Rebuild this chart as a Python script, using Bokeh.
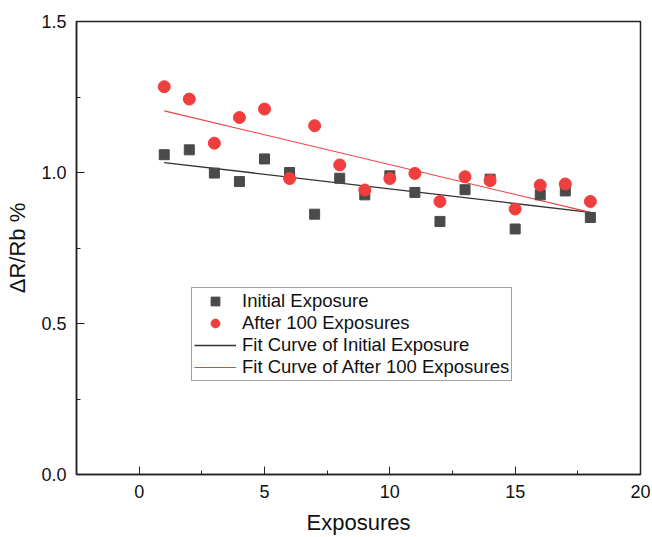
from bokeh.plotting import figure
from bokeh.models import Range1d, Legend, LegendItem, FixedTicker, CustomJSTickFormatter
from bokeh.embed import file_html
from bokeh.resources import INLINE

exposures = list(range(1, 19))
initial = [1.059, 1.075, 0.998, 0.970, 1.045, 1.000, 0.862, 0.981, 0.926,
           0.989, 0.934, 0.838, 0.943, 0.978, 0.813, 0.926, 0.939, 0.851]
after100 = [1.284, 1.243, 1.097, 1.182, 1.210, 0.980, 1.155, 1.025, 0.942,
            0.980, 0.997, 0.904, 0.986, 0.973, 0.879, 0.958, 0.962, 0.904]
fit_x = [1, 18]
fit_initial = [1.033, 0.868]
fit_after = [1.204, 0.868]

x_ticks = [0, 5, 10, 15, 20]
x_minor = [-2.5, 2.5, 7.5, 12.5, 17.5]
y_ticks = [0.0, 0.5, 1.0, 1.5]
y_minor = [0.25, 0.75, 1.25]

FONT = "Liberation Sans"
GRAY = "#4a4a4a"
RED = "#f03e3e"

p = figure(width=652, height=537, output_backend="svg", toolbar_location=None,
           x_range=Range1d(-2.5, 20), y_range=Range1d(0, 1.5),
           min_border_left=76, min_border_right=12, min_border_top=21, min_border_bottom=63)
p.background_fill_color = "white"
p.border_fill_color = "white"
p.outline_line_color = "#222222"
p.outline_line_width = 1.5
p.xgrid.visible = False
p.ygrid.visible = False

for ax in (p.xaxis[0], p.yaxis[0]):
    ax.axis_line_color = "#222222"
    ax.axis_line_width = 1.5
    ax.major_tick_in = 8
    ax.major_tick_out = 0
    ax.minor_tick_in = 4
    ax.minor_tick_out = 0
    ax.major_tick_line_color = "#222222"
    ax.minor_tick_line_color = "#222222"
    ax.major_label_text_font = FONT
    ax.major_label_text_font_size = "18px"
    ax.major_label_text_color = "#111111"
    ax.major_label_standoff = 10
    ax.axis_label_text_font = FONT
    ax.axis_label_text_font_size = "22px"
    ax.axis_label_text_font_style = "normal"
    ax.axis_label_text_color = "#111111"

p.xaxis[0].ticker = FixedTicker(ticks=x_ticks, minor_ticks=x_minor)
p.yaxis[0].ticker = FixedTicker(ticks=y_ticks, minor_ticks=y_minor)
p.yaxis[0].formatter = CustomJSTickFormatter(code="return tick.toFixed(1);")
p.xaxis[0].axis_label = "Exposures"
p.yaxis[0].axis_label = "ΔR/Rb %"
p.xaxis[0].axis_label_standoff = 9
p.yaxis[0].axis_label_standoff = 8

r_fit_i = p.line(fit_x, fit_initial, line_color="#333333", line_width=1.3)
r_fit_a = p.line(fit_x, fit_after, line_color=RED, line_width=1.1)
r_sq = p.scatter(exposures, initial, marker="square", size=10, fill_color=GRAY, line_color=GRAY)
r_ci = p.scatter(exposures, after100, marker="circle", size=12, fill_color=RED, line_color=RED)

legend = Legend(items=[
    LegendItem(label="Initial Exposure", renderers=[r_sq]),
    LegendItem(label="After 100 Exposures", renderers=[r_ci]),
    LegendItem(label="Fit Curve of Initial Exposure", renderers=[r_fit_i]),
    LegendItem(label="Fit Curve of After 100 Exposures", renderers=[r_fit_a]),
], location=(115, 93))
legend.label_text_font = FONT
legend.label_text_font_size = "18.5px"
legend.label_text_color = "#111111"
legend.glyph_width = 42
legend.glyph_height = 22
legend.label_height = 20
legend.spacing = 0
legend.padding = 2
legend.margin = 0
legend.label_standoff = 6
legend.border_line_color = "#444444"
legend.border_line_width = 1
legend.background_fill_alpha = 1
p.add_layout(legend, "center")

open("out.html", "w").write(file_html(p, INLINE))
